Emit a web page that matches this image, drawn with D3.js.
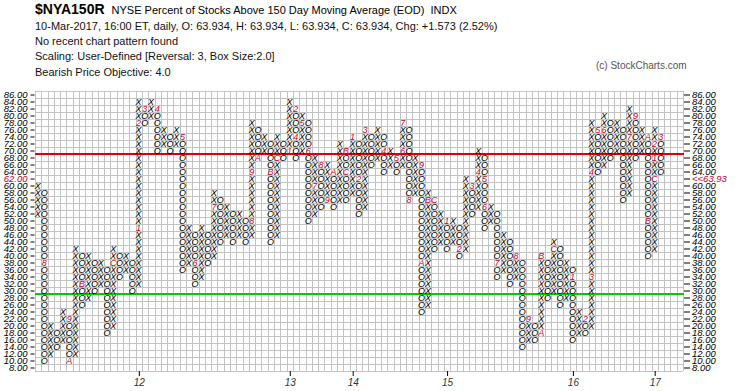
<html>
<head>
  <script src="https://d3js.org/d3.v7.min.js"></script>
  <style>
    body { margin: 0; background: #fff; }
    text { font-family: Arial, "Liberation Sans", sans-serif; }
  </style>
</head>
<body>
  <svg id="chart" width="745" height="391"></svg>
  <script>
    // point & figure columns, left to right; first column is X, then they alternate
    const colLow = [52, 10, 12, 14, 16, 10, 12, 26, 28, 30, 32, 18, 20, 34, 36, 30, 32, 78, 80, 70,
      72, 70, 72, 36, 38, 32, 34, 38, 40, 44, 46, 44, 46, 44, 46, 68, 70, 44, 46, 68,
      70, 68, 70, 50, 52, 54, 56, 54, 56, 56, 58, 52, 54, 66, 68, 64, 66, 64, 66, 56,
      58, 24, 26, 42, 44, 42, 44, 40, 42, 52, 54, 48, 50, 34, 36, 32, 34, 14, 16, 16,
      18, 28, 30, 26, 28, 16, 18, 18, 20, 64, 66, 68, 70, 56, 58, 68, 70, 40, 42, 64];
    const colHigh = [60, 58, 20, 18, 24, 22, 42, 40, 40, 38, 38, 36, 42, 40, 40, 38, 84, 82, 84, 82,
      76, 74, 76, 74, 48, 46, 48, 46, 58, 56, 54, 52, 52, 50, 78, 76, 74, 72, 74, 72,
      84, 82, 80, 78, 68, 66, 66, 64, 72, 70, 74, 72, 76, 74, 76, 74, 70, 68, 78, 76,
      68, 66, 58, 56, 52, 50, 50, 48, 62, 60, 70, 68, 54, 52, 46, 44, 40, 38, 22, 20,
      40, 38, 44, 42, 38, 36, 24, 22, 78, 76, 80, 78, 78, 76, 82, 80, 76, 74, 76, 74];

    // month markers (1-9, A-C) drawn in place of a box
    const markCol = [2, 6, 6, 8, 13, 17, 17, 18, 20, 24, 26, 29, 35, 35, 36, 38, 39,
      41, 42, 42, 43, 44, 45, 46, 47, 48, 50, 50, 51, 52, 53, 56, 58, 59, 59, 60, 62, 62, 63, 64,
      66, 68, 70, 71, 72, 72, 74, 77, 79, 81, 81, 83,
      86, 88, 89, 89, 90, 91, 95, 96, 98, 98, 99, 99, 99, 100];
    const markValue = [38, 22, 10, 32, 38, 48, 78, 82, 82, 74, 38, 54, 50, 64, 68, 64, 68,
      70, 82, 74, 78, 70, 60, 66, 56, 64, 70, 64, 74, 62, 76, 70, 68, 70, 78, 56, 66, 38, 56, 56,
      50, 42, 60, 64, 62, 54, 38, 40, 22, 18, 40, 42,
      34, 22, 34, 64, 76, 76, 74, 80, 74, 50, 62, 68, 72, 74];
    const markLabel = ["8", "9", "A", "B", "C", "1", "2", "3", "4", "5", "6", "7", "8", "9", "A", "B", "C",
      "1", "2", "4", "5", "6", "7", "8", "9", "A", "B", "C", "1", "2", "3", "4", "5", "6", "7", "8", "9", "A", "B", "C",
      "1", "2", "3", "4", "5", "6", "7", "8", "9", "A", "B", "C",
      "1", "2", "3", "4", "5", "6", "7", "9", "A", "B", "C", "1", "2", "3"];

    const yearLabels = ["12", "13", "14", "15", "16", "17"];
    const yearCols = [17, 41, 51, 66, 86, 99];
    const boxTicks = d3.range(86, 7, -2);
    const lastClose = 63.93;
    const redLevel = 69;
    const greenLevel = 29;
    const columnCount = 103;

    const svg = d3.select("svg#chart");

    const grid = { left: 35, right: 683, top: 91, bottom: 371 };

    // column edges: column k spans k-1 .. k
    const xScale = d3.scaleLinear().domain([0, columnCount]).range([grid.left, grid.right]);
    const yScale = d3.scaleLinear().domain([87, 7]).range([grid.top, grid.bottom]);
    const colX = k => xScale(k - 0.5);
    const crisp = v => Math.round(v) + 0.5;

    // header
    const head = svg.append("g");
    const title = head.append("text").attr("x", 35).attr("y", 14).attr("font-size", 11);
    title.append("tspan").attr("font-weight", "bold").attr("font-size", 14).text("$NYA150R");
    title.append("tspan").attr("dx", 7).text("NYSE Percent of Stocks Above 150 Day Moving Average (EOD)\u00a0\u00a0INDX");
    const lines = [
      "10-Mar-2017, 16:00 ET, daily, O: 63.934, H: 63.934, L: 63.934, C: 63.934, Chg: +1.573 (2.52%)",
      "No recent chart pattern found",
      "Scaling: User-Defined [Reversal: 3, Box Size:2.0]",
      "Bearish Price Objective: 4.0"
    ];
    lines.forEach((t, i) => {
      head.append("text").attr("x", 35).attr("y", 30 + i * 15.2)
        .attr("font-size", 11).attr("fill", "#111").text(t);
    });
    head.append("text").attr("x", 596).attr("y", 69).attr("font-size", 10)
      .attr("fill", "#555").text("(c) StockCharts.com");

    // grid
    const gridG = svg.append("g").attr("stroke", "#c2c2c2").attr("stroke-width", 1);
    d3.range(0, columnCount + 1).forEach(k => {
      gridG.append("line")
        .attr("x1", crisp(xScale(k))).attr("x2", crisp(xScale(k)))
        .attr("y1", grid.top).attr("y2", grid.bottom);
    });
    d3.range(87, 6, -2).forEach(v => {
      gridG.append("line")
        .attr("x1", grid.left).attr("x2", grid.right)
        .attr("y1", crisp(yScale(v))).attr("y2", crisp(yScale(v)));
    });

    // axes
    const leftAxis = d3.axisLeft(yScale).tickValues(boxTicks).tickSize(4).tickPadding(3)
      .tickFormat(d => d.toFixed(2));
    const leftG = svg.append("g").attr("transform", `translate(${grid.left - 0.5},0)`).call(leftAxis);

    const rightAxis = d3.axisRight(yScale).tickValues(boxTicks).tickSize(6).tickPadding(2)
      .tickFormat(d => d === 62 ? "<<" + lastClose.toFixed(2) : d.toFixed(2));
    const rightG = svg.append("g").attr("transform", `translate(${grid.right + 1},0)`).call(rightAxis);

    const bottomAxis = d3.axisBottom(xScale).tickValues(yearCols.map(k => k - 0.5)).tickSize(5).tickPadding(3)
      .tickFormat((d, i) => yearLabels[i]);
    const bottomG = svg.append("g").attr("transform", `translate(0,${grid.bottom})`).call(bottomAxis);

    [leftG, rightG, bottomG].forEach(g => {
      g.select(".domain").remove();
      g.selectAll("line").attr("stroke", "#000");
      g.selectAll("text").attr("font-family", "Arial, 'Liberation Sans', sans-serif")
        .attr("font-style", "italic").attr("font-size", 9.5).attr("fill", "#000");
    });
    leftG.selectAll(".tick").filter(d => d === 62).select("text").attr("fill", "#cc0033");
    rightG.selectAll(".tick").filter(d => d === 62).select("text").attr("fill", "#cc0033");
    bottomG.selectAll("text").attr("fill", "#333").attr("font-size", 10);

    // signal lines
    svg.append("line")
      .attr("x1", grid.left).attr("x2", grid.right + 1)
      .attr("y1", yScale(redLevel)).attr("y2", yScale(redLevel))
      .attr("stroke", "#e00000").attr("stroke-width", 2);
    svg.append("line")
      .attr("x1", grid.left).attr("x2", grid.right + 1)
      .attr("y1", yScale(greenLevel)).attr("y2", yScale(greenLevel))
      .attr("stroke", "#00cc00").attr("stroke-width", 2);

    // boxes
    const marks = new Map();
    markCol.forEach((c, i) => marks.set(c + "_" + markValue[i], markLabel[i]));

    const boxes = [];
    colLow.forEach((lo, i) => {
      const type = i % 2 === 0 ? "X" : "O";
      for (let v = lo; v <= colHigh[i]; v += 2) {
        const key = (i + 1) + "_" + v;
        boxes.push({ col: i + 1, value: v, text: marks.has(key) ? marks.get(key) : type, mark: marks.has(key) });
      }
    });

    svg.append("g").selectAll("text").data(boxes).join("text")
      .attr("x", d => colX(d.col) - 0.3)
      .attr("y", d => yScale(d.value) + 3.3)
      .attr("text-anchor", "middle")
      .attr("font-style", "italic")
      .attr("font-size", 9)
      .attr("fill", d => d.mark ? "#cc0033" : "#000")
      .text(d => d.text);
  </script>
</body>
</html>
